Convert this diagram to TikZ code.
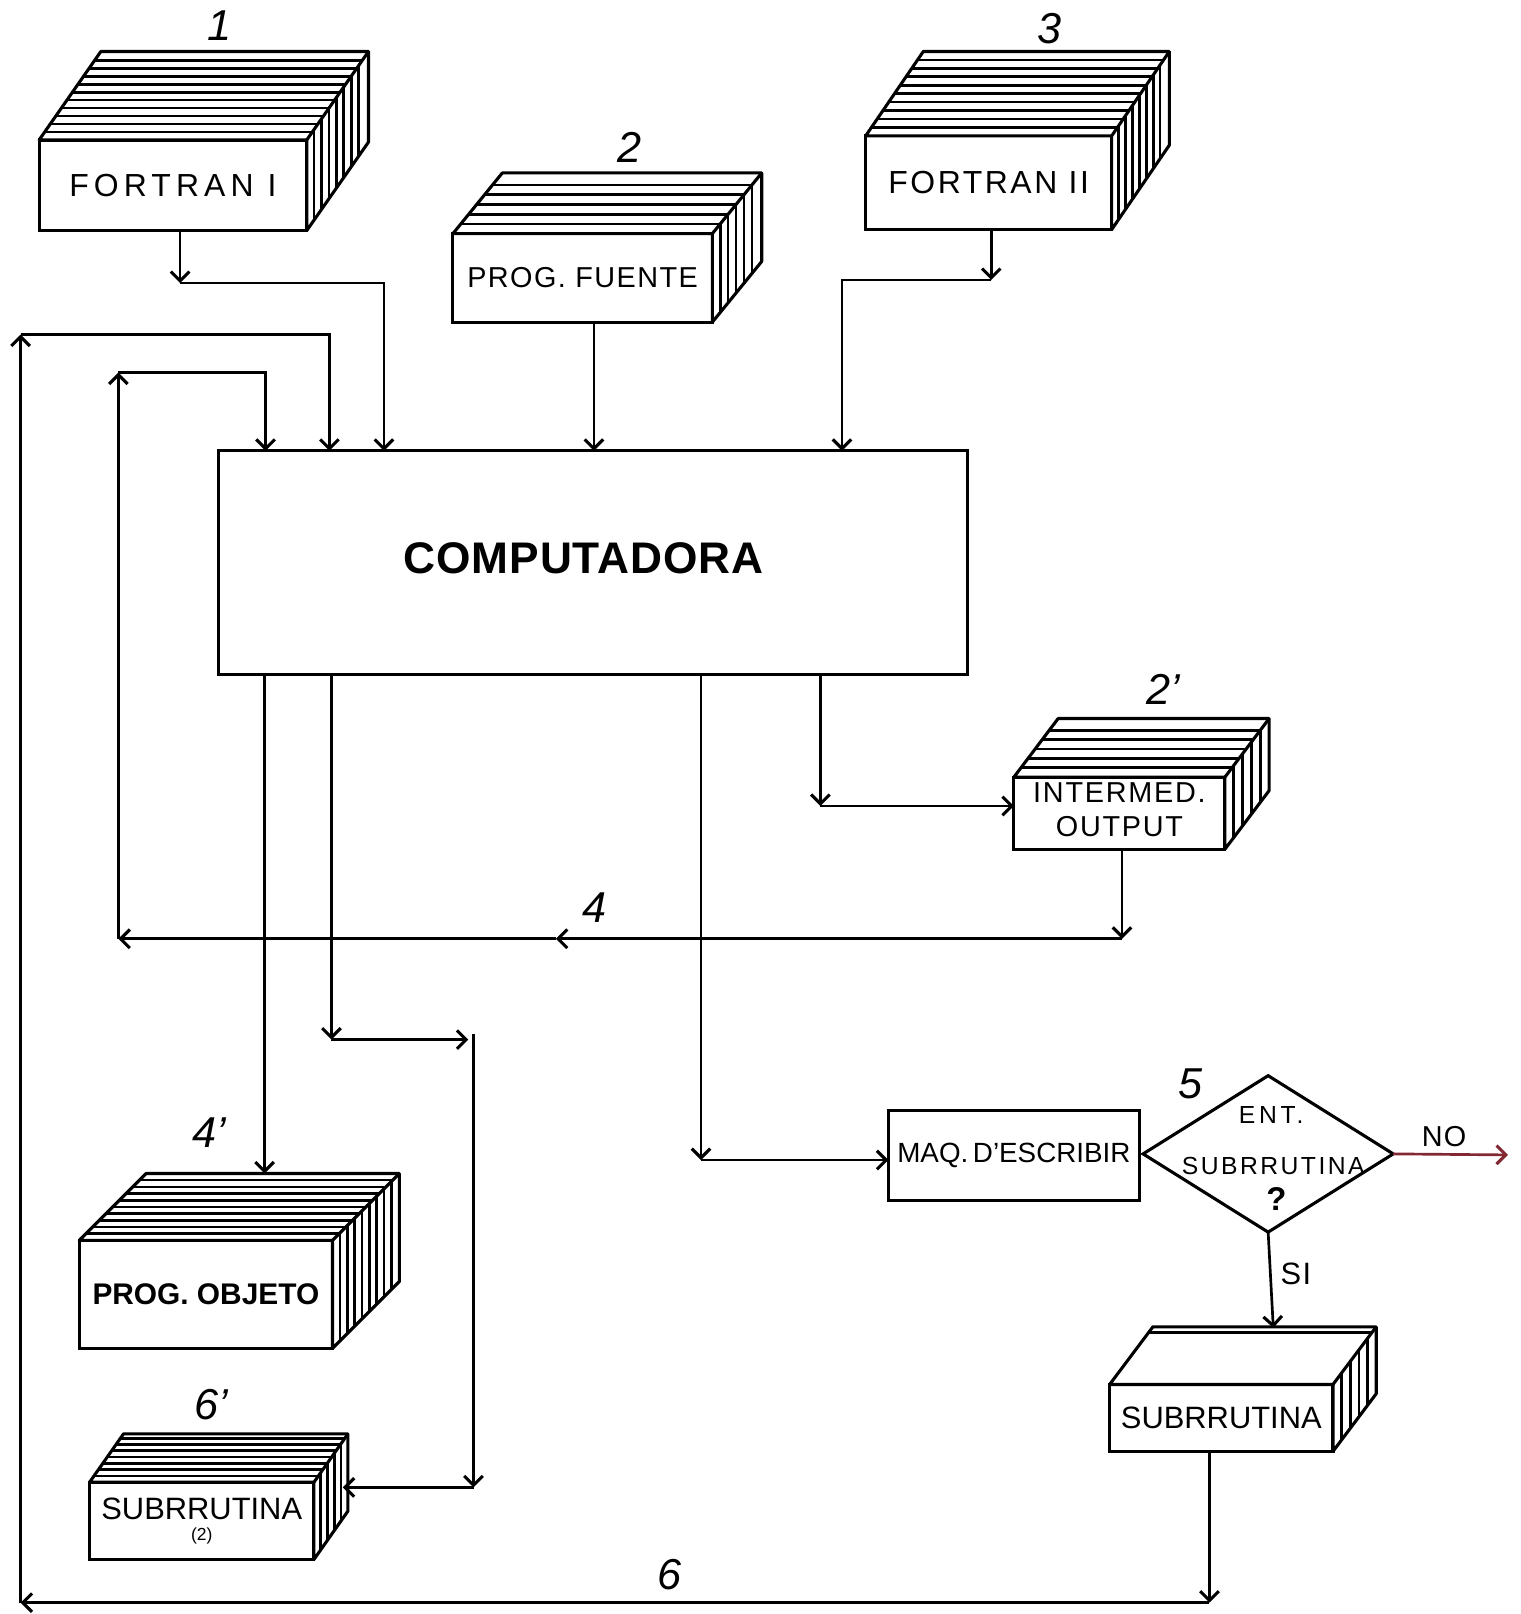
\documentclass[tikz,border=0pt]{standalone}
\usepackage{fontspec}
\setmainfont{Liberation Sans}
\usetikzlibrary{arrows.meta,shapes.geometric,calc}
\definecolor{nored}{RGB}{130,40,50}
\tikzset{
  deckfront/.style={draw, line width=3pt, outer sep=0pt, inner sep=0pt, align=center, fill=white},
  deckline/.style={line width=3pt, line join=round},
  stripe/.style={line width=2.6pt},
  conn/.style={line width=2.6pt, -{Straight Barb[length=9pt,width=18pt,line width=3pt]}},
  num/.style={font=\fontsize{42}{42}\selectfont\itshape},
  fnt/.style n args={3}{font={\fontsize{#1}{#2}\selectfont\addfontfeatures{LetterSpace=#3}}},
}
% #1 options, #2 name, #3 x, #4 y, #5 w, #6 h, #7 dx, #8 dy, #9 text
\newcommand\deck[9][]{%
  \node[deckfront,minimum width=#5pt,minimum height=#6pt,#1] (#2) at ({#3+#5/2},{#4+#6/2}) {#9};
  \draw[deckline,fill=white] (#2.north west) -- ([shift={(#7,#8)}]#2.north west) -- ([shift={(#7,#8)}]#2.north east) -- ([shift={(#7,#8)}]#2.south east) -- (#2.south east) -- (#2.north east) -- cycle;
  \draw[deckline] (#2.north east) -- ([shift={(#7,#8)}]#2.north east);
}
\newcommand\topstripes[4]{%
  \foreach \t in {#4}{\draw[stripe] ([shift={({\t*(#2)},{\t*(#3)})}]#1.north west) -- ([shift={({\t*(#2)},{\t*(#3)})}]#1.north east);}}
\newcommand\sidestripes[4]{%
  \foreach \t in {#4}{\draw[stripe] ([shift={({\t*(#2)},{\t*(#3)})}]#1.north east) -- ([shift={({\t*(#2)},{\t*(#3)})}]#1.south east);}}
\begin{document}
\begin{tikzpicture}[x=1pt,y=-1pt]
\useasboundingbox (0,0) rectangle (1477,1568);

% main boxes
\node[draw, line width=3pt, minimum width=728pt, minimum height=217pt, outer sep=0pt,
      font=\fontsize{43}{43}\selectfont\bfseries\addfontfeatures{LetterSpace=2}] (comp) at (576,546.5) {\raisebox{8pt}{COMPUTADORA}\hspace*{18pt}};
\node[draw, line width=3pt, minimum width=244pt, minimum height=87pt, outer sep=0pt,
      fnt={27}{27}{0}] (maq) at (985,1122.5) {MAQ.\,D'ESCRIBIR};
\node[draw, diamond, line width=3pt, minimum width=243pt, minimum height=152pt,
      inner sep=0pt, outer sep=0pt] (dia) at (1232,1121) {};
\node[fnt={24}{24}{15}] (ent) at (1235,1083) {ENT.};
\node[fnt={24}{24}{10}] (subq) at (1237,1133) {SUBRRUTINA};
\node[font=\fontsize{32}{32}\selectfont\bfseries] (q) at (1240,1165) {?};

% decks
\deck[fnt={31}{36}{16}]{d1}{38}{136}{260}{88}{60}{-86}{FORTRAN I}
\topstripes{d1}{60}{-86}{0.09,0.18,...,0.91}
\sidestripes{d1}{60}{-86}{0.12,0.24,0.36,0.48,0.6,0.72,0.84}

\deck[fnt={28}{33}{5}]{d2}{440}{227}{252}{86}{48}{-59}{PROG. FUENTE}
\topstripes{d2}{48}{-59}{0.16,0.32,0.48,0.64,0.8}
\sidestripes{d2}{48}{-59}{0.16,0.32,0.48,0.64,0.8}

\deck[fnt={31}{36}{8}]{d3}{841}{132}{239}{91}{56}{-82}{FORTRAN II}
\topstripes{d3}{56}{-82}{0.1,0.2,...,0.9}
\sidestripes{d3}{56}{-82}{0.12,0.24,0.36,0.48,0.6,0.72,0.84}

\deck[fnt={28}{33}{6}]{d2p}{985}{755}{205}{70}{43}{-57}{\raisebox{8pt}{\begin{tabular}{@{}c@{}}INTERMED.\\OUTPUT\end{tabular}}}
\topstripes{d2p}{43}{-57}{0.16,0.32,0.48,0.64,0.8}
\sidestripes{d2p}{43}{-57}{0.2,0.4,0.6,0.8}

\deck[fnt={29}{34}{0}]{obj}{77}{1205}{246}{105}{65}{-65}{\bfseries PROG. OBJETO}
\topstripes{obj}{65}{-65}{0.1,0.2,...,0.9}
\sidestripes{obj}{65}{-65}{0.11,0.22,0.33,0.44,0.55,0.66,0.77,0.88}

\deck[fnt={30}{30}{0}]{sub2}{87}{1440}{218}{75}{33}{-47}{SUBRRUTINA\\[-10pt]{\fontsize{17}{17}\selectfont (2)}}
\topstripes{sub2}{33}{-47}{0.13,0.26,0.39,0.52,0.65,0.78,0.91}
\sidestripes{sub2}{33}{-47}{0.2,0.4,0.6,0.8}

\deck[fnt={30}{35}{0}]{d6}{1078}{1345}{217}{65}{42}{-56}{SUBRRUTINA}
\topstripes{d6}{42}{-56}{0.9}
\sidestripes{d6}{42}{-56}{0.2,0.4,0.6,0.8}

% labels
\node[num] (n1) at (213,25) {1};
\node[num] (n2) at (612,143) {2};
\node[num] (n3) at (1020,28) {3};
\node[num] (n2p) at (1130,670) {2'};
\node[num] (n4) at (578,882) {4};
\node[num] (n4p) at (203,1100) {4'};
\node[num] (n5) at (1157,1053) {5};
\node[num] (n6) at (650,1530) {6};
\node[num] (n6p) at (205,1365) {6'};
\node[fnt={28}{28}{4}] (lno) at (1403,1104) {NO};
\node[fnt={30}{30}{4}] (lsi) at (1259,1238) {SI};

% coordinates for connectors
\coordinate (f1a) at (175,275);
\coordinate (f1b) at (373,275);
\coordinate (pfx) at (577,275);
\coordinate (f3a) at (963,272);
\coordinate (f3b) at (818,272);
\coordinate (l6a) at (1175,1557);
\coordinate (l6b) at (20,1557);
\coordinate (l6c) at (20,325);
\coordinate (l6d) at (320,325);
\coordinate (l4a) at (1090,912);
\coordinate (l4m) at (540,912);
\coordinate (l4b) at (115,912);
\coordinate (l4c) at (115,362);
\coordinate (l4d) at (258,362);
\coordinate (o1) at (797,783);
\coordinate (objtop) at (257,1140);
\coordinate (s1) at (322,1010);
\coordinate (s2) at (455,1010);
\coordinate (s2b) at (460,1005);
\coordinate (s3) at (460,1445);
\coordinate (sub2side) at (333,1445);
\coordinate (m1) at (681,1127);
\coordinate (noend) at (1465,1122);
\coordinate (subtop) at (1237,1290);

% connectors
\draw[conn] (d1.south -| f1a) -- (f1a);
\draw[conn] (f1a) -- (f1b) -- (comp.north -| f1b);
\draw[conn] (d2.south -| pfx) -- (comp.north -| pfx);
\draw[conn] (d3.south -| f3a) -- (f3a);
\draw[conn] (f3a) -- (f3b) -- (comp.north -| f3b);
\draw[conn] (d6.south -| l6a) -- (l6a);
\draw[conn] (l6a) -- (l6b);
\draw[conn] (l6b) -- (l6c);
\draw[conn] (l6c) -- (l6d) -- (comp.north -| l6d);
\draw[conn] (d2p.south -| l4a) -- (l4a);
\draw[conn] (l4a) -- (l4m);
\draw[conn] (l4m) -- (l4b);
\draw[conn] (l4b) -- (l4c);
\draw[conn] (l4c) -- (l4d) -- (comp.north -| l4d);
\draw[conn] (comp.south -| o1) -- (o1);
\draw[conn] (o1) -- (d2p.west |- o1);
\draw[conn] (comp.south -| objtop) -- (objtop);
\draw[conn] (comp.south -| s1) -- (s1);
\draw[conn] (s1) -- (s2);
\draw[conn] (s2b) -- (s3);
\draw[conn] (s3) -- (sub2side);
\draw[conn] (comp.south -| m1) -- (m1);
\draw[conn] (m1) -- (maq.west |- m1);
\draw[conn, draw=nored] (dia.east) -- (noend);
\draw[conn] (dia.south) -- (subtop);
\end{tikzpicture}
\end{document}
